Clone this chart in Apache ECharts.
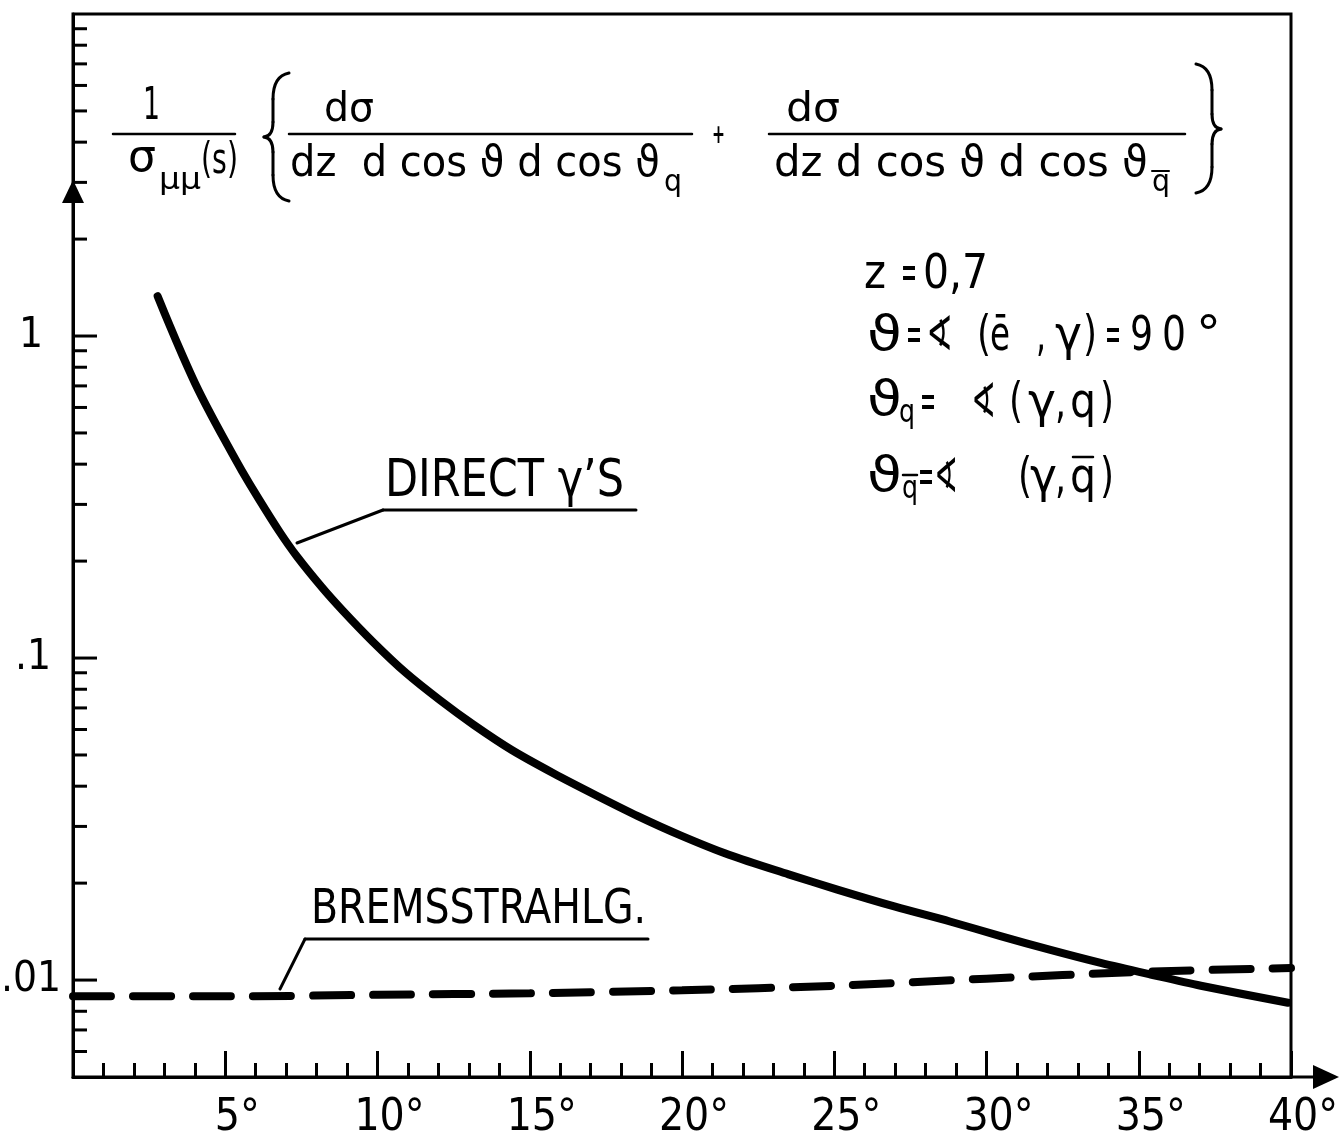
<!DOCTYPE html>
<html>
<head>
<meta charset="utf-8">
<script src="https://cdn.jsdelivr.net/npm/echarts@6/dist/echarts.min.js"></script>
<style>
  html, body { margin: 0; padding: 0; background: #fff; }
  #chart { width: 1339px; height: 1141px; }
</style>
</head>
<body>
<div id="chart"></div>
<script>
// Direct photons: angle between photon and quark jet (degrees) vs. normalised cross section
const directTheta = [2.78, 3.19, 3.61, 4.02, 4.44, 4.99, 5.55, 6.10, 6.79, 7.35, 8.17, 8.87, 9.84,
  10.94, 12.05, 13.16, 14.41, 15.79, 17.17, 18.55, 19.93, 21.54, 23.5, 25.1, 27.0, 28.8,
  30.46, 32.1, 33.75, 35.39, 37.04, 39.9];
const directValue = [1.33, 1.07, 0.865, 0.71, 0.592, 0.474, 0.381, 0.312, 0.246, 0.207,
  0.166, 0.140, 0.1125, 0.0898, 0.0740, 0.0620, 0.0518, 0.0438, 0.0375, 0.0323, 0.0282,
  0.0245, 0.0213, 0.0191, 0.0169, 0.0152, 0.0137, 0.0124, 0.0113, 0.0104, 0.0096, 0.0085];

// Bremsstrahlung photons
const bremsTheta = [0, 5, 10, 15, 20, 25, 30, 35, 40];
const bremsValue = [0.0089, 0.0089, 0.0090, 0.0091, 0.0093, 0.0096, 0.0101, 0.0106, 0.0109];

// Axis ticks and labels
const xLabelValues = [5, 10, 15, 20, 25, 30, 35, 40];
const yTickValues = [0.006, 0.007, 0.008, 0.009,
  0.01, 0.02, 0.03, 0.04, 0.05, 0.06, 0.07, 0.08, 0.09,
  0.1, 0.2, 0.3, 0.4, 0.5, 0.6, 0.7, 0.8, 0.9,
  1, 2, 3, 4, 5, 6, 7, 8, 9];
const yLabelValues = [0.01, 0.1, 1];
const yLabelTexts = ['.01', '.1', '1'];

const FONT = '"DejaVu Sans Condensed", "DejaVu Sans", sans-serif';
const INK = '#000';

function isDecade(v) {
  const l = Math.log10(v);
  return Math.abs(l - Math.round(l)) < 1e-7;
}

const measureCtx = document.createElement('canvas').getContext('2d');
function textWidth(t, size) {
  measureCtx.font = size + 'px ' + FONT;
  return measureCtx.measureText(t).width;
}

// text squeezed or stretched horizontally to run from x0 to x1
function piece(text, x0, x1, y, size, extraStyle) {
  const s = (x1 - x0) / textWidth(text, size);
  return {
    type: 'text', x: x0, y: y, scaleX: s, silent: true, z: 10,
    style: Object.assign({
      text: text, fill: INK, fontSize: size, fontFamily: FONT,
      textAlign: 'left', textVerticalAlign: 'middle'
    }, extraStyle || {})
  };
}
function seg(x1, y1, x2, y2, w) {
  return { type: 'line', silent: true, z: 10,
    shape: { x1: x1, y1: y1, x2: x2, y2: y2 },
    style: { stroke: INK, lineWidth: w || 3, lineCap: 'round' } };
}
function curve(x1, y1, cx, cy, x2, y2) {
  return { type: 'bezierCurve', silent: true, z: 10,
    shape: { x1: x1, y1: y1, x2: x2, y2: y2, cpx1: cx, cpy1: cy },
    style: { stroke: INK, lineWidth: 3, fill: null, lineCap: 'round' } };
}
function tri(points) {
  return { type: 'polygon', silent: true, z: 10, shape: { points: points }, style: { fill: INK } };
}
// curly brace drawn from its two ends, stem and middle tip
function brace(xEnd, xStem, xTip, yTop, yMid, yBot) {
  return [
    curve(xEnd, yTop, xStem, yTop + 3, xStem, yTop + 26),
    seg(xStem, yTop + 26, xStem, yMid - 15, 3),
    curve(xStem, yMid - 15, xStem, yMid - 1, xTip, yMid),
    curve(xTip, yMid, xStem, yMid + 1, xStem, yMid + 15),
    seg(xStem, yMid + 15, xStem, yBot - 26, 3),
    curve(xStem, yBot - 26, xStem, yBot - 3, xEnd, yBot)
  ];
}

const graphic = [].concat(
  [
    // axis arrows
    tri([[73, 180], [62, 203], [84, 203]]),
    seg(1291, 1077, 1318, 1077, 3),
    tri([[1339, 1077], [1313, 1065], [1313, 1089]]),

    // normalisation factor 1/σμμ(s)
    piece('1', 143, 160, 108, 44),
    seg(113, 134, 235, 134, 2.5),
    piece('σ', 128, 156, 160, 44),
    piece('μμ', 159, 201, 181, 30),
    piece('(s)', 201, 238, 162, 42),

    // first differential cross section
    piece('dσ', 324, 374, 111, 40),
    seg(289, 134, 692, 134, 2.5),
    piece('dz  d cos ϑ d cos ϑ', 290, 660, 165, 42),
    piece('q', 664, 682, 183, 30),
    piece('+', 712, 725, 136, 26, { fontWeight: 'bold' }),

    // second differential cross section
    piece('dσ', 786, 840, 111, 40),
    seg(769, 134, 1185, 134, 2.5),
    piece('dz d cos ϑ d cos ϑ', 774, 1148, 165, 42),
    piece('q', 1152, 1170, 183, 30),
    seg(1152, 171, 1169, 171, 2),

    // kinematic parameters
    piece('z', 864, 886, 276, 48),
    piece('=', 901, 917, 276, 48),
    piece('0,7', 923, 988, 276, 48),

    piece('ϑ', 867, 902, 338, 48),
    piece('=', 906, 922, 338, 48),
    piece('∢', 926, 953, 338, 48),
    piece('(', 977, 991, 338, 48),
    piece('ē', 990, 1010, 338, 48),
    piece(',', 1036, 1046, 338, 48),
    piece('γ', 1055, 1082, 338, 48),
    piece(')', 1083, 1097, 338, 48),
    piece('=', 1105, 1121, 338, 48),
    piece('9', 1130, 1153, 338, 48),
    piece('0', 1162, 1186, 338, 48),
    piece('°', 1196, 1221, 338, 48),

    piece('ϑ', 867, 902, 403, 48),
    piece('q', 899, 915, 414, 32),
    piece('=', 920, 936, 405, 48),
    piece('∢', 971, 996, 405, 48),
    piece('(', 1009, 1023, 405, 48),
    piece('γ', 1028, 1056, 405, 48),
    piece(',', 1055, 1066, 405, 48),
    piece('q', 1070, 1096, 405, 48),
    piece(')', 1100, 1114, 405, 48),

    piece('ϑ', 867, 902, 479, 48),
    piece('q', 902, 918, 490, 32),
    seg(903, 475, 917, 475, 2.5),
    piece('=', 918, 934, 480, 48),
    piece('∢', 934, 958, 480, 48),
    piece('(', 1018, 1032, 480, 48),
    piece('γ', 1030, 1057, 480, 48),
    piece(',', 1055, 1066, 480, 48),
    piece('q', 1070, 1096, 480, 48),
    piece(')', 1100, 1114, 480, 48),
    seg(1073, 457, 1093, 457, 2.5),

    // curve labels
    piece('DIRECT γ\u2019S', 385, 624, 482, 52),
    seg(383, 510, 636, 510, 3),
    seg(383, 510, 297, 543, 3),
    piece('BREMSSTRAHLG.', 311, 646, 911, 48),
    seg(305, 939, 648, 939, 3),
    seg(305, 939, 280, 989, 3)
  ],
  brace(289, 273, 264, 73, 137, 201),
  brace(1196, 1212, 1221, 64, 129, 193)
);

const Y_LABEL_SIZE = 42;
const yLabelRich = {
  d0: { fontFamily: FONT, fontSize: Y_LABEL_SIZE, color: INK, padding: [0, 0, 0, 0] },
  d1: { fontFamily: FONT, fontSize: Y_LABEL_SIZE, color: INK, padding: [0, 10, 0, 0] },
  d2: { fontFamily: FONT, fontSize: Y_LABEL_SIZE, color: INK, padding: [0, 18, 0, 0] }
};

const chart = echarts.init(document.getElementById('chart'), null, { renderer: 'canvas' });

const option = {
  animation: false,
  backgroundColor: '#fff',
  grid: {
    left: 73, right: 48, top: 14, bottom: 64,
    containLabel: false, outerBoundsMode: 'none',
    show: true, borderColor: INK, borderWidth: 3, backgroundColor: 'transparent'
  },
  xAxis: {
    type: 'value', min: 0, max: 40, interval: 5,
    axisLine: { show: true, lineStyle: { color: INK, width: 3 } },
    axisTick: { show: true, inside: true, length: 26, lineStyle: { color: INK, width: 3 } },
    minorTick: { show: true, splitNumber: 5, length: 14, lineStyle: { color: INK, width: 3 } },
    splitLine: { show: false },
    minorSplitLine: { show: false },
    axisLabel: {
      color: INK, fontFamily: FONT, fontSize: 44, margin: 20, padding: [0, 0, 0, 24],
      formatter: function (v) { return xLabelValues.indexOf(v) >= 0 ? v + '°' : ''; }
    }
  },
  yAxis: {
    type: 'log', logBase: 10, min: 0.005, max: 10,
    axisLine: { show: true, lineStyle: { color: INK, width: 3 } },
    axisTick: { show: false },
    minorTick: { show: false },
    splitLine: { show: false },
    axisLabel: {
      color: INK, fontFamily: FONT, fontSize: Y_LABEL_SIZE, margin: 12,
      rich: yLabelRich,
      formatter: function (v) {
        for (let i = 0; i < yLabelValues.length; i++) {
          if (Math.abs(Math.log10(v) - Math.log10(yLabelValues[i])) < 1e-6) {
            return '{d' + i + '|' + yLabelTexts[i] + '}';
          }
        }
        return '';
      }
    }
  },
  series: [
    {
      // logarithmic ticks on the vertical axis, placed through the axis scale
      type: 'custom',
      silent: true,
      clip: false,
      z: 4,
      data: yTickValues.map(function (v) { return [0, v]; }),
      renderItem: function (params, api) {
        const v = api.value(1);
        const p = api.coord([0, v]);
        const len = isDecade(v) ? 24 : 14;
        return {
          type: 'line',
          shape: { x1: p[0], y1: p[1], x2: p[0] + len, y2: p[1] },
          style: { stroke: INK, lineWidth: 3 }
        };
      }
    },
    {
      name: 'DIRECT γ\u2019S',
      type: 'line',
      data: directTheta.map(function (t, i) { return [t, directValue[i]]; }),
      symbol: 'none',
      smooth: 0.3,
      z: 5,
      lineStyle: { color: INK, width: 8, cap: 'round', join: 'round' }
    },
    {
      name: 'BREMSSTRAHLG.',
      type: 'line',
      data: bremsTheta.map(function (t, i) { return [t, bremsValue[i]]; }),
      symbol: 'none',
      smooth: 0.3,
      z: 5,
      lineStyle: { color: INK, width: 8, type: [38, 22], cap: 'round' }
    }
  ],
  graphic: graphic
};

chart.setOption(option);
</script>
</body>
</html>
